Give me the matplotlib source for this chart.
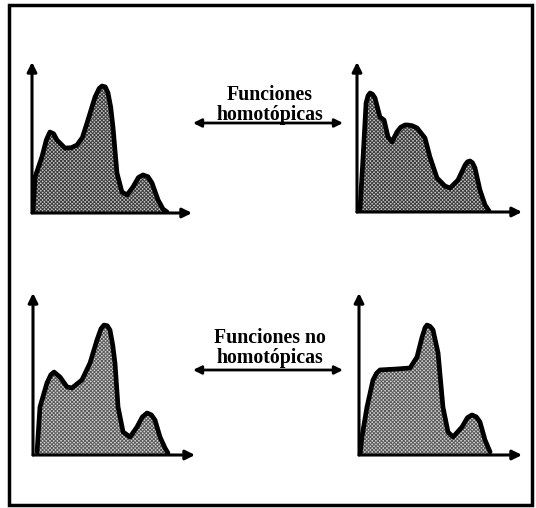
import numpy as np
import matplotlib
matplotlib.use("Agg")
import matplotlib.pyplot as plt
from matplotlib.patches import Rectangle

# Curve outlines, panel units (x: 0-100 along axis, y: 0-100 up the axis)
tl_x = [0.6, 1.9, 6.2, 9.0, 11.2, 13.5, 15.6, 20.6, 24.5, 28.1, 31.5, 34.4, 39.4,
        42.0, 43.8, 45.8, 47.5, 49.2, 50.6, 53.1, 56.2, 59.4, 63.1, 66.5, 69.4,
        72.5, 75.0, 78.8, 81.9, 84.4]
tl_y = [0.0, 23.8, 37.1, 48.5, 53.6, 52.5, 48.3, 43.0, 43.2, 45.0, 50.0, 59.6, 76.8,
        82.5, 84.1, 83.5, 79.5, 70.0, 57.0, 26.5, 13.9, 11.9, 17.2, 23.5, 25.2,
        24.0, 19.9, 8.6, 2.6, 0.7]

tr_x = [1.8, 3.6, 5.5, 6.7, 7.9, 9.4, 10.9, 13.9, 16.4, 18.8, 21.2, 24.2, 26.5,
        29.1, 30.9, 33.5, 36.4, 41.2, 44.2, 48.5, 53.3, 56.4, 61.2, 65.5, 67.0,
        68.5, 70.0, 71.5, 74.5, 77.6, 80.0]
tr_y = [1.3, 34.7, 72.7, 77.5, 79.3, 78.5, 76.0, 63.3, 61.3, 50.0, 46.7, 53.3, 56.5,
        58.0, 58.0, 57.5, 56.0, 49.3, 36.7, 22.7, 17.3, 16.0, 21.3, 31.3, 33.5,
        34.0, 32.8, 29.3, 14.7, 4.7, 0.7]

bl_x = [2.5, 4.3, 8.6, 11.0, 13.0, 16.7, 21.0, 24.1, 30.2, 35.2, 39.5, 42.0, 43.8,
        45.8, 47.5, 49.2, 50.6, 52.5, 55.6, 59.9, 64.2, 67.5, 70.4, 73.0, 75.3,
        78.4, 81.5, 83.3]
bl_y = [1.9, 29.6, 44.4, 49.5, 51.2, 48.1, 42.0, 41.4, 46.3, 56.8, 71.0, 78.0, 80.2,
        79.8, 77.2, 68.0, 56.8, 29.6, 14.2, 11.1, 17.3, 23.5, 25.9, 24.8, 21.6,
        11.1, 4.3, 1.2]

br_x = [0.6, 1.8, 4.9, 8.6, 10.8, 12.9, 23.3, 31.3, 35.6, 38.7, 40.5, 41.7, 43.5,
        45.4, 48.5, 51.5, 54.6, 57.7, 63.2, 66.5, 69.3, 72.0, 74.2, 77.3, 80.4]
br_y = [0.0, 11.1, 29.6, 46.3, 50.5, 52.5, 53.1, 53.7, 60.5, 72.8, 78.5, 80.2, 79.5,
        77.2, 63.0, 29.6, 14.2, 11.1, 17.3, 23.0, 24.7, 23.5, 20.4, 9.3, 1.9]

top_label = "Funciones\nhomotópicas"
bottom_label = "Funciones no\nhomotópicas"

W, H = 536, 508
fig = plt.figure(figsize=(W / 100, H / 100), dpi=100)


def px_box(left, base, width, height):
    # axes rectangle from pixel origin (left, base) measured top-down
    return [left / W, (H - base) / H, width / W, height / H]


def panel(box, xs, ys, fill, edge):
    ax = fig.add_axes(box)
    ax.set_xlim(0, 100)
    ax.set_ylim(0, 100)
    ax.axis("off")
    ax.fill_between(xs, ys, 0, facecolor=fill, hatch="x" * 9, edgecolor=edge,
                    linewidth=0)
    ax.plot(xs, ys, color="black", lw=3.4, solid_joinstyle="round",
            solid_capstyle="round")
    arrow = dict(arrowstyle="-|>", color="black", lw=2.2, mutation_scale=14,
                 shrinkA=0, shrinkB=0)
    ax.annotate("", xy=(0, 1), xytext=(0, 0), xycoords="axes fraction",
                arrowprops=arrow, annotation_clip=False)
    ax.annotate("", xy=(1, 0), xytext=(0, 0), xycoords="axes fraction",
                arrowprops=arrow, annotation_clip=False)
    ax.plot([0, 0.01], [0, 0], color="black", lw=2.2)
    return ax


plt.rcParams["hatch.linewidth"] = 0.7

panel(px_box(32, 213, 160, 151), tl_x, tl_y, "#c8c8c8", "#3c3c3c")
panel(px_box(357, 212, 165, 150), tr_x, tr_y, "#c8c8c8", "#3c3c3c")
panel(px_box(33, 455, 162, 162), bl_x, bl_y, "#d4d4d4", "#5a5a5a")
panel(px_box(359, 455, 163, 162), br_x, br_y, "#d4d4d4", "#5a5a5a")

# Labels and double arrows between the panels
for label, ty, ay in [(top_label, 105, 123), (bottom_label, 348, 370)]:
    fig.text(270 / W, 1 - ty / H, label, ha="center", va="center",
             family="Liberation Serif", weight="bold", fontsize=14.3,
             linespacing=1.0)
    fig.add_artist(plt.Annotation(
        "", xy=(343 / W, 1 - ay / H), xytext=(193 / W, 1 - ay / H),
        xycoords="figure fraction",
        arrowprops=dict(arrowstyle="<|-|>", color="black", lw=2.0,
                        mutation_scale=12, shrinkA=0, shrinkB=0)))

# Outer frame
fig.add_artist(Rectangle((9 / W, 1 - 505 / H), 523 / W, 500 / H,
                         transform=fig.transFigure, fill=False,
                         edgecolor="black", lw=2.5))

fig.savefig("out.png", dpi=100)
